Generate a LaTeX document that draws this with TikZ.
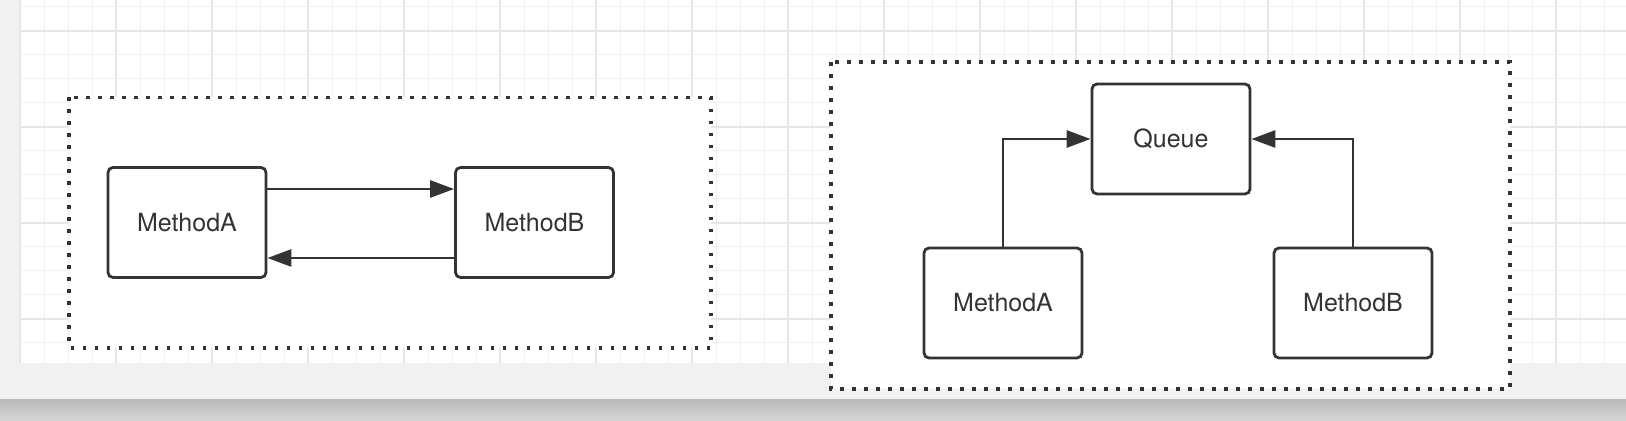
\documentclass[tikz,border=0pt]{standalone}
\usepackage{fontspec}
\setmainfont{TeX Gyre Heros}
\usetikzlibrary{arrows.meta}
\definecolor{ink}{HTML}{333333}
\definecolor{pane}{HTML}{F1F1F1}
\definecolor{gridminor}{HTML}{F0F0F0}
\definecolor{gridmajor}{HTML}{E6E6E6}
\definecolor{shadetop}{HTML}{BBBBBB}
\definecolor{shadebot}{HTML}{D6D6D6}
\tikzset{
  methodbox/.style={draw=ink, line width=1.4pt, rounded corners=2.5pt, fill=white,
    minimum width=79pt, minimum height=55pt, inner sep=0pt, text=ink,
    font=\fontsize{12.5pt}{14pt}\selectfont},
  groupbox/.style={draw=ink, fill=white, line width=1.9pt, dash pattern=on 1.8pt off 4.2pt},
  flow/.style={draw=ink, line width=1.4pt, -{Triangle[length=12pt,width=8.5pt]}},
  minorline/.style={draw=gridminor, line width=0.5pt},
  majorline/.style={draw=gridmajor, line width=0.6pt}
}
\begin{document}
\begin{tikzpicture}[x=0.5pt,y=-0.5pt]
\useasboundingbox (0,0) rectangle (1626,421);
% background
\fill[white] (0,0) rectangle (1626,363);
\fill[pane] (0,0) rectangle (20,363);
\fill[pane] (0,363) rectangle (1626,400);
\shade[top color=shadetop, bottom color=shadebot] (0,400) rectangle (1626,421);
% grid
\foreach \k in {0,...,66}{
  \pgfmathtruncatemacro{\m}{mod(\k,4)}
  \ifnum\m=0
    \draw[majorline] (20+24*\k,0) -- (20+24*\k,363);
  \else
    \draw[minorline] (20+24*\k,0) -- (20+24*\k,363);
  \fi
}
\foreach \k in {0,...,14}{
  \pgfmathtruncatemacro{\m}{mod(\k+3,4)}
  \ifnum\m=0
    \draw[majorline] (20,7+24*\k) -- (1626,7+24*\k);
  \else
    \draw[minorline] (20,7+24*\k) -- (1626,7+24*\k);
  \fi
}
% group containers
\draw[groupbox] (69,97.5) rectangle (711,348);
\draw[groupbox] (831,62) rectangle (1510,389);
% left group
\node[methodbox] (lA) at (187,222.5) {MethodA};
\node[methodbox] (lB) at (534.5,222.5) {MethodB};
\draw[flow] ([yshift=16.75pt]lA.east) -- ([yshift=16.75pt]lB.west);
\draw[flow] ([yshift=-17.75pt]lB.west) -- ([yshift=-17.75pt]lA.east);
% right group
\node[methodbox] (q) at (1171,139) {Queue};
\node[methodbox] (rA) at (1003,303) {MethodA};
\node[methodbox] (rB) at (1353,303) {MethodB};
\draw[flow] (rA.north) |- (q.west);
\draw[flow] (rB.north) |- (q.east);
\end{tikzpicture}
\end{document}
